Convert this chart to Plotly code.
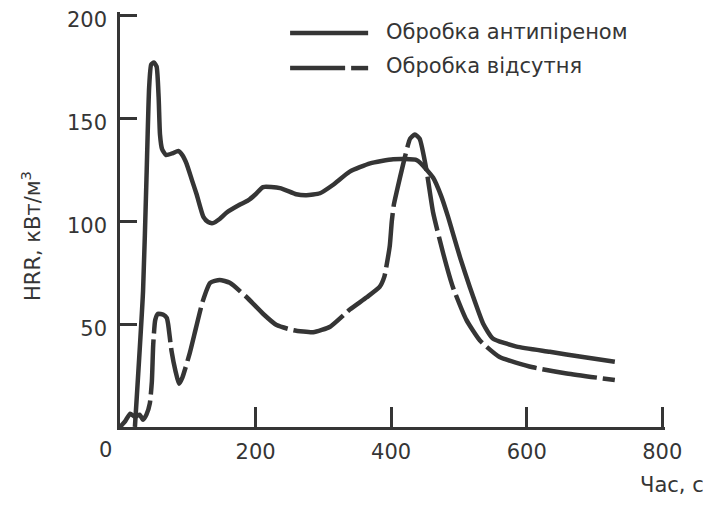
import plotly.graph_objects as go

# Solid curve: "Обробка антипіреном"
treated_t = [22, 34, 39, 43, 46, 50, 54, 57, 59, 62, 68, 78, 86, 92, 98, 106, 113, 123, 130, 137, 147, 157, 177, 189, 200, 211, 236, 260, 275, 295, 314, 339, 369, 403, 438, 462, 474, 484, 492, 502, 516, 536, 550, 585, 634, 683, 730]
treated_hrr = [0, 66, 120, 165, 176, 177, 175, 160, 142, 135, 132, 133, 134, 132, 128, 120, 113, 102, 99.5, 99, 101, 104, 108, 110, 113, 116.5, 116, 113, 112.5, 113.5, 117.5, 124, 128, 130, 129.5, 121, 112, 102, 93, 82, 68, 50, 43, 39, 36.5, 34, 31.7]

# Dashed curve: "Обробка відсутня"
untreated_t = [0, 8, 15, 22, 29, 34, 39, 44, 47, 49, 52, 56, 64, 69, 71, 76, 82, 87, 92, 103, 112, 122, 133, 147, 162, 187, 211, 231, 256, 285, 310, 339, 364, 383, 390, 393, 398, 401, 404, 408, 418, 428, 435, 442, 452, 462, 477, 491, 511, 531, 560, 609, 659, 730]
untreated_hrr = [0, 3, 6.5, 5, 6, 3.5, 6, 11.5, 22, 40, 52, 55, 54.5, 53, 50, 37, 27, 21, 24, 36, 48, 61, 70, 71.4, 70, 63, 55, 49.5, 47, 46, 48.7, 57, 63, 68, 73, 78, 88, 100, 108, 114, 128, 140, 142, 140, 125, 104, 84, 68, 52, 42, 34, 29, 26, 22.8]

legend_names = ["Обробка антипіреном", "Обробка відсутня"]
x_ticks = [200, 400, 600, 800]
y_ticks = [50, 100, 150, 200]
x_title = "Час, с"
y_title = "HRR, кВт/м<sup>3</sup>"

INK = "#353535"
FONT = "DejaVu Sans"
FS = 21
OFF = 8  # page body margin of the browser
X_MAX, Y_MAX = 804, 201.5  # a little past the last ticks so they are drawn
KX, KY = 542 / 800, 412 / 200  # pixels per unit
W, H = 711 - OFF, 508 - OFF
X0, Y0 = 120, 427  # window pixel of the origin
X1, Y1 = X0 + X_MAX * KX, Y0 - Y_MAX * KY
L, T = X0 - OFF, Y1 - OFF
R, B = 711 - X1, 508 - Y0
PW, PH = W - L - R, H - T - B


def px(xp):
    return (xp - X0) / PW


def py(yp):
    return (Y0 - yp) / PH


fig = go.Figure()
fig.add_trace(go.Scatter(x=treated_t, y=treated_hrr, mode="lines", name=legend_names[0],
                         line=dict(color=INK, width=4.5, shape="spline", smoothing=0.5),
                         showlegend=False))
fig.add_trace(go.Scatter(x=untreated_t, y=untreated_hrr, mode="lines", name=legend_names[1],
                         line=dict(color=INK, width=4.5, dash="55px,6px", shape="spline", smoothing=0.5),
                         showlegend=False))

# manual legend
fig.add_shape(type="line", xref="paper", yref="paper", x0=px(290), x1=px(368), y0=py(33), y1=py(33),
              line=dict(color=INK, width=4.5))
fig.add_shape(type="line", xref="paper", yref="paper", x0=px(290), x1=px(345), y0=py(68), y1=py(68),
              line=dict(color=INK, width=4.5))
fig.add_shape(type="line", xref="paper", yref="paper", x0=px(351), x1=px(368), y0=py(68), y1=py(68),
              line=dict(color=INK, width=4.5))
for i, yy in enumerate([32, 66]):
    fig.add_annotation(text=legend_names[i], xref="paper", yref="paper", x=px(384), y=py(yy),
                       xanchor="left", yanchor="middle", showarrow=False,
                       font=dict(family=FONT, size=FS, color=INK))

fig.add_annotation(text=y_title, xref="paper", yref="paper", x=px(31), y=py(236), textangle=-90,
                   xanchor="center", yanchor="middle", showarrow=False,
                   font=dict(family=FONT, size=FS, color=INK))
fig.add_annotation(text=x_title, xref="paper", yref="paper", x=px(706), y=py(485),
                   xanchor="right", yanchor="middle", showarrow=False,
                   font=dict(family=FONT, size=FS, color=INK))
fig.add_annotation(text="0", xref="paper", yref="paper", x=px(106), y=py(450),
                   xanchor="center", yanchor="middle", showarrow=False,
                   font=dict(family=FONT, size=FS, color=INK))

fig.update_layout(
    width=W, height=H,
    margin=dict(l=L, r=R, t=T, b=B, autoexpand=False),
    paper_bgcolor="white", plot_bgcolor="white",
    font=dict(family=FONT, size=FS, color=INK),
)
fig.update_xaxes(range=[0, X_MAX], tickvals=x_ticks, ticks="inside", ticklen=20, tickwidth=2.5,
                 tickcolor=INK, showline=True, linecolor=INK, linewidth=2.5, showgrid=False,
                 zeroline=False, ticklabelstandoff=4, automargin=False, ticklabeloverflow="allow")
fig.update_yaxes(range=[0, Y_MAX], tickvals=y_ticks, ticks="inside", ticklen=17, tickwidth=2.5,
                 tickcolor=INK, showline=True, linecolor=INK, linewidth=2.5, showgrid=False,
                 zeroline=False, ticklabelstandoff=6, ticklabelshift=5, automargin=False,
                 ticklabeloverflow="allow")

fig.write_html("out.html")
